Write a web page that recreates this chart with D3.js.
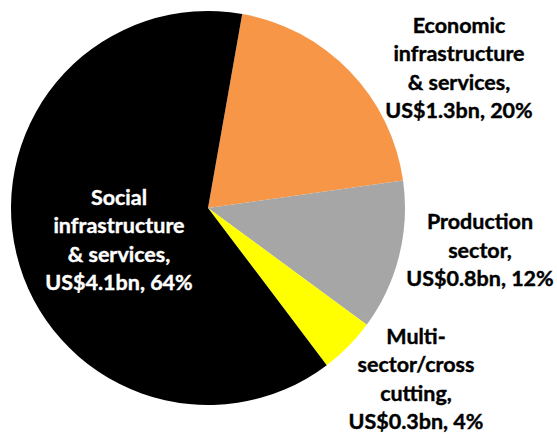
<!DOCTYPE html>
<html>
<head>
<meta charset="utf-8">
<script src="https://cdn.jsdelivr.net/npm/d3@7"></script>
<style>
  html, body { margin: 0; padding: 0; background: #fff; }
  svg { display: block; }
  text { font-family: Lato, "Open Sans", sans-serif; font-weight: 700; }
</style>
</head>
<body>
<svg id="chart" width="557" height="439"></svg>
<script>
// Sector shares of the total, in US$ billions
const sectors = ["Economic", "Production", "Multi", "Social"];
const values = [1.3, 0.8, 0.3, 4.1];
const percents = [20, 12, 4, 64];
const labelLines = [
  ["Economic", "infrastructure", "& services,"],
  ["Production", "sector,"],
  ["Multi-", "sector/cross", "cutting,"],
  ["Social", "infrastructure", "& services,"]
];
const colors = ["#f79646", "#a6a6a6", "#ffff00", "#000000"];
const textColors = ["#000", "#000", "#000", "#fff"];

const width = 557, height = 439;
const cx = 208, cy = 208, radius = 197;
const start = 10 * Math.PI / 180;

const svg = d3.select("#chart");
const g = svg.append("g").attr("transform", `translate(${cx},${cy})`);

const pie = d3.pie().sort(null).value(d => d).startAngle(start).endAngle(start + 2 * Math.PI);
const arcs = pie(values);
const arc = d3.arc().innerRadius(0).outerRadius(radius);

g.selectAll("path")
  .data(arcs)
  .join("path")
  .attr("d", arc)
  .attr("fill", (d, i) => colors[i]);

// Label anchors (centre of each text block, page coordinates)
const labelPos = [[459, 68], [480, 250], [416, 379], [119, 240]];
const lineH = 28.5;
const fontSize = 21.5;

labelPos.forEach((p, i) => {
  const lines = labelLines[i].concat([`US$${values[i].toFixed(1)}bn, ${percents[i]}%`]);
  const t = svg.append("text")
    .attr("text-anchor", "middle")
    .attr("font-size", fontSize)
    .attr("fill", textColors[i])
    .attr("stroke", textColors[i])
    .attr("stroke-width", 0.4);
  const y0 = p[1] - (lines.length - 1) * lineH / 2;
  lines.forEach((ln, k) => {
    t.append("tspan")
      .attr("x", p[0])
      .attr("y", y0 + k * lineH)
      .attr("dy", "0.35em")
      .text(ln);
  });
});
</script>
</body>
</html>
